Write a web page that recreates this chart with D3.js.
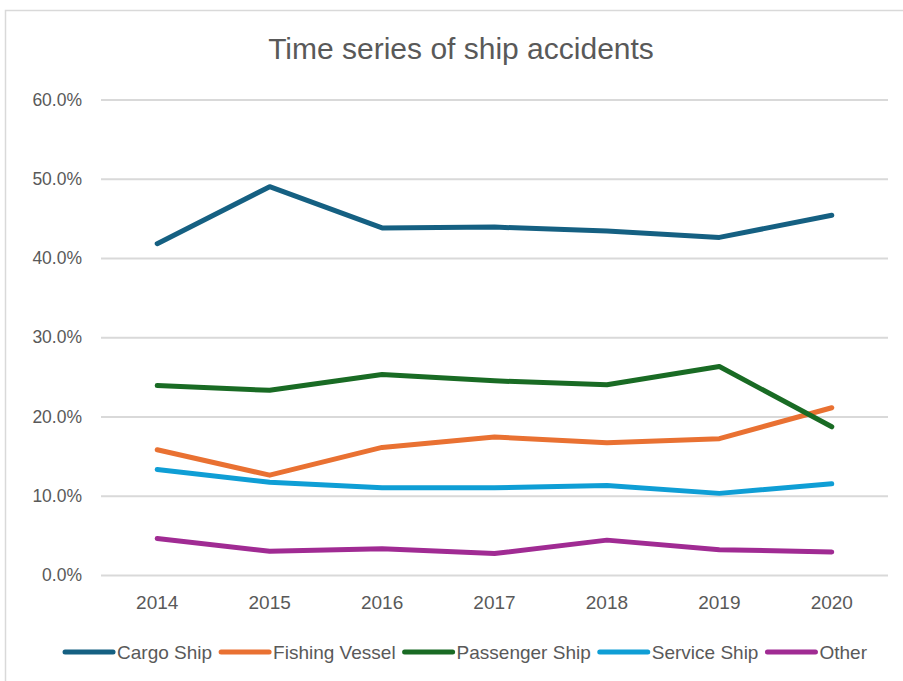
<!DOCTYPE html>
<html>
<head>
<meta charset="utf-8">
<script src="https://cdn.jsdelivr.net/npm/d3@7"></script>
<style>
  body { margin: 0; background: #fff; }
  text { font-family: "Liberation Sans", Arial, sans-serif; fill: #595959; }
</style>
</head>
<body>
<svg id="chart" width="903" height="681"></svg>
<script>
const years = ['2014', '2015', '2016', '2017', '2018', '2019', '2020'];
const cargo = [41.8, 49.0, 43.8, 43.9, 43.4, 42.6, 45.4];
const fishing = [15.8, 12.6, 16.1, 17.4, 16.7, 17.2, 21.1];
const passenger = [23.9, 23.3, 25.3, 24.5, 24.0, 26.3, 18.7];
const service = [13.3, 11.7, 11.0, 11.0, 11.3, 10.3, 11.5];
const other = [4.6, 3.0, 3.3, 2.7, 4.4, 3.2, 2.9];
const y_ticks = [0, 10, 20, 30, 40, 50, 60];

const series = [
  { name: 'Cargo Ship', values: cargo, color: '#156082' },
  { name: 'Fishing Vessel', values: fishing, color: '#e97132' },
  { name: 'Passenger Ship', values: passenger, color: '#196b24' },
  { name: 'Service Ship', values: service, color: '#0f9ed5' },
  { name: 'Other', values: other, color: '#a02b93' }
];

const svg = d3.select('#chart');
const plot = { left: 101, right: 888, top: 99.5, bottom: 575 };

// chart border
svg.append('rect')
  .attr('x', 5.5).attr('y', 10.5)
  .attr('width', 940).attr('height', 700)
  .attr('fill', 'none')
  .attr('stroke', '#d9d9d9')
  .attr('stroke-width', 1.5);

svg.append('text')
  .attr('x', 461).attr('y', 59)
  .attr('text-anchor', 'middle')
  .style('font-size', '30px')
  .text('Time series of ship accidents');

const x = d3.scaleBand().domain(years).range([plot.left, plot.right]);
const y = d3.scaleLinear().domain([0, 60]).range([plot.bottom, plot.top]);

// gridlines + y labels
const y_axis = svg.append('g')
  .attr('transform', `translate(${plot.left},0)`)
  .call(d3.axisLeft(y).tickValues(y_ticks)
    .tickSize(-(plot.right - plot.left))
    .tickPadding(19)
    .tickFormat((d) => d.toFixed(1) + '%'));
y_axis.select('.domain').remove();
y_axis.selectAll('line').attr('stroke', '#d9d9d9').attr('stroke-width', 2);
y_axis.selectAll('text').style('font-size', '17.5px').attr('fill', '#595959');

const x_axis = svg.append('g')
  .attr('transform', `translate(0,${plot.bottom})`)
  .call(d3.axisBottom(x).tickSize(0).tickPadding(21));
x_axis.select('.domain').remove();
x_axis.selectAll('text').style('font-size', '19px').attr('fill', '#595959');

const line = d3.line()
  .x((d, i) => x(years[i]) + x.bandwidth() / 2)
  .y((d) => y(d));

svg.selectAll('.series')
  .data(series)
  .enter()
  .append('path')
  .attr('class', 'series')
  .attr('d', (d) => line(d.values))
  .attr('fill', 'none')
  .attr('stroke', (d) => d.color)
  .attr('stroke-width', 5)
  .attr('stroke-linecap', 'round')
  .attr('stroke-linejoin', 'round');

// legend
const legend = svg.append('g');
const swatch = 52;
let lx = 0;
series.forEach((s) => {
  const item = legend.append('g').attr('transform', `translate(${lx},0)`);
  item.append('line')
    .attr('x1', 2).attr('x2', swatch - 2)
    .attr('y1', 0).attr('y2', 0)
    .attr('stroke', s.color)
    .attr('stroke-width', 5)
    .attr('stroke-linecap', 'round');
  const label = item.append('text')
    .attr('x', swatch + 2).attr('y', 7)
    .style('font-size', '19px')
    .text(s.name);
  lx += swatch + 2 + label.node().getComputedTextLength() + 7;
});
legend.attr('transform', `translate(${465 - (lx - 7) / 2},652)`);
</script>
</body>
</html>
